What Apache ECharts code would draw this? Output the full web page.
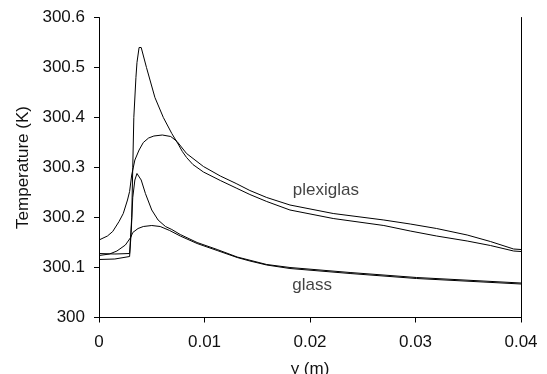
<!DOCTYPE html>
<html>
<head>
<meta charset="utf-8">
<script src="https://cdn.jsdelivr.net/npm/echarts@6/dist/echarts.min.js"></script>
<style>
html,body{margin:0;padding:0;background:#fff;}
#c{width:547px;height:374px;}
</style>
</head>
<body>
<div id="c"></div>
<script>
// Plexiglas, sharp-peak curve
var xPlexA = [0, 0.0015, 0.0029, 0.0031, 0.0032, 0.0033, 0.0035, 0.0036, 0.0038, 0.0040, 0.0045, 0.0053, 0.0061, 0.0069, 0.0075, 0.0079, 0.0083, 0.0089, 0.0099, 0.0115, 0.0130, 0.0143, 0.0159, 0.0181, 0.0222, 0.0270, 0.0295, 0.0320, 0.0349, 0.0371, 0.0393, 0.0400];
var yPlexA = [300.128, 300.127, 300.128, 300.200, 300.300, 300.400, 300.480, 300.510, 300.540, 300.540, 300.500, 300.440, 300.400, 300.368, 300.347, 300.332, 300.320, 300.306, 300.291, 300.274, 300.259, 300.246, 300.232, 300.215, 300.198, 300.184, 300.173, 300.163, 300.153, 300.144, 300.133, 300.132];
// Plexiglas, smooth curve
var xPlexB = [0, 0.0008, 0.0013, 0.0019, 0.0023, 0.0027, 0.0029, 0.0031, 0.0034, 0.0038, 0.0042, 0.0047, 0.0052, 0.0060, 0.0068, 0.0074, 0.0083, 0.0099, 0.0115, 0.0130, 0.0143, 0.0159, 0.0181, 0.0222, 0.0270, 0.0295, 0.0320, 0.0349, 0.0371, 0.0393, 0.0400];
var yPlexB = [300.155, 300.163, 300.172, 300.192, 300.208, 300.235, 300.252, 300.285, 300.315, 300.335, 300.350, 300.359, 300.363, 300.365, 300.362, 300.352, 300.328, 300.302, 300.283, 300.268, 300.254, 300.240, 300.225, 300.208, 300.195, 300.187, 300.178, 300.165, 300.152, 300.137, 300.136];
// Glass, sharp-peak curve
var xGlassA = [0, 0.0015, 0.0029, 0.00305, 0.0032, 0.0034, 0.0036, 0.0037, 0.0040, 0.0044, 0.0050, 0.0056, 0.0063, 0.0069, 0.0077, 0.0093, 0.0112, 0.0131, 0.0159, 0.0181, 0.0238, 0.0301, 0.0364, 0.0400];
var yGlassA = [300.116, 300.117, 300.122, 300.170, 300.240, 300.275, 300.288, 300.290, 300.275, 300.248, 300.215, 300.195, 300.182, 300.176, 300.166, 300.150, 300.136, 300.121, 300.106, 300.100, 300.090, 300.080, 300.073, 300.069];
// Glass, smooth curve
var xGlassB = [0, 0.0010, 0.0017, 0.0025, 0.0030, 0.0032, 0.0037, 0.0042, 0.0050, 0.0058, 0.0067, 0.0077, 0.0093, 0.0112, 0.0131, 0.0143, 0.0159, 0.0181, 0.0238, 0.0301, 0.0364, 0.0400];
var yGlassB = [300.124, 300.127, 300.133, 300.145, 300.160, 300.170, 300.178, 300.182, 300.184, 300.182, 300.174, 300.163, 300.148, 300.134, 300.120, 300.113, 300.105, 300.098, 300.088, 300.078, 300.071, 300.067];
// Curve labels
var labelTexts = ['plexiglas', 'glass'];
var labelX = [0.0215, 0.0202];
var labelY = [300.255, 300.064];
// Axes
var xTicks = ['0', '0.01', '0.02', '0.03', '0.04'];
var yTicks = ['300', '300.1', '300.2', '300.3', '300.4', '300.5', '300.6'];

function pairs(xs, ys) { return xs.map(function (x, i) { return [x, ys[i]]; }); }

var FONT = '"Liberation Sans", Arial, sans-serif';
var lineStyle = { color: '#000', width: 1 };
function lineSeries(name, xs, ys) {
  return { name: name, type: 'line', data: pairs(xs, ys), showSymbol: false, symbol: 'none',
           lineStyle: lineStyle, silent: true, animation: false, z: 3 };
}

var chart = echarts.init(document.getElementById('c'), null, { renderer: 'canvas' });
chart.setOption({
  backgroundColor: '#fff',
  animation: false,
  grid: { left: 99, right: 26, top: 17.5, bottom: 56.5, containLabel: false, outerBoundsMode: 'none' },
  xAxis: {
    type: 'value', min: 0, max: 0.04, interval: 0.01,
    name: 'y (m)', nameLocation: 'middle', nameGap: 43,
    nameTextStyle: { fontFamily: FONT, fontSize: 17, color: '#111' },
    axisLine: { show: true, lineStyle: { color: '#000', width: 1 } },
    axisTick: { show: true, length: 5, lineStyle: { color: '#000' } },
    axisLabel: { fontFamily: FONT, fontSize: 17, color: '#111', margin: 16,
      formatter: function (v) { return xTicks[Math.round(v / 0.01)]; } },
    splitLine: { show: false }
  },
  yAxis: [{
    type: 'value', min: 300, max: 300.6, interval: 0.1,
    name: 'Temperature (K)', nameLocation: 'middle', nameGap: 48,
    nameTextStyle: { fontFamily: FONT, fontSize: 17, color: '#111' },
    axisLine: { show: true, lineStyle: { color: '#000', width: 1 } },
    axisTick: { show: true, length: 5, lineStyle: { color: '#000' } },
    axisLabel: { fontFamily: FONT, fontSize: 17, color: '#111', margin: 14,
      formatter: function (v) { return yTicks[Math.round((v - 300) / 0.1)]; } },
    splitLine: { show: false }
  }, {
    type: 'value', min: 300, max: 300.6, interval: 0.1, position: 'right',
    axisLine: { show: true, lineStyle: { color: '#000', width: 1 } },
    axisTick: { show: false }, axisLabel: { show: false }, splitLine: { show: false }
  }],
  series: [
    lineSeries('plexiglas A', xPlexA, yPlexA),
    lineSeries('plexiglas B', xPlexB, yPlexB),
    lineSeries('glass A', xGlassA, yGlassA),
    lineSeries('glass B', xGlassB, yGlassB),
    {
      name: 'labels', type: 'scatter', symbolSize: 0, silent: true, animation: false,
      data: labelTexts.map(function (t, i) { return { value: [labelX[i], labelY[i]], name: t }; }),
      label: { show: true, position: 'inside', formatter: function (p) { return p.name; },
               fontFamily: FONT, fontSize: 17, color: '#111' }
    }
  ]
});
</script>
</body>
</html>
